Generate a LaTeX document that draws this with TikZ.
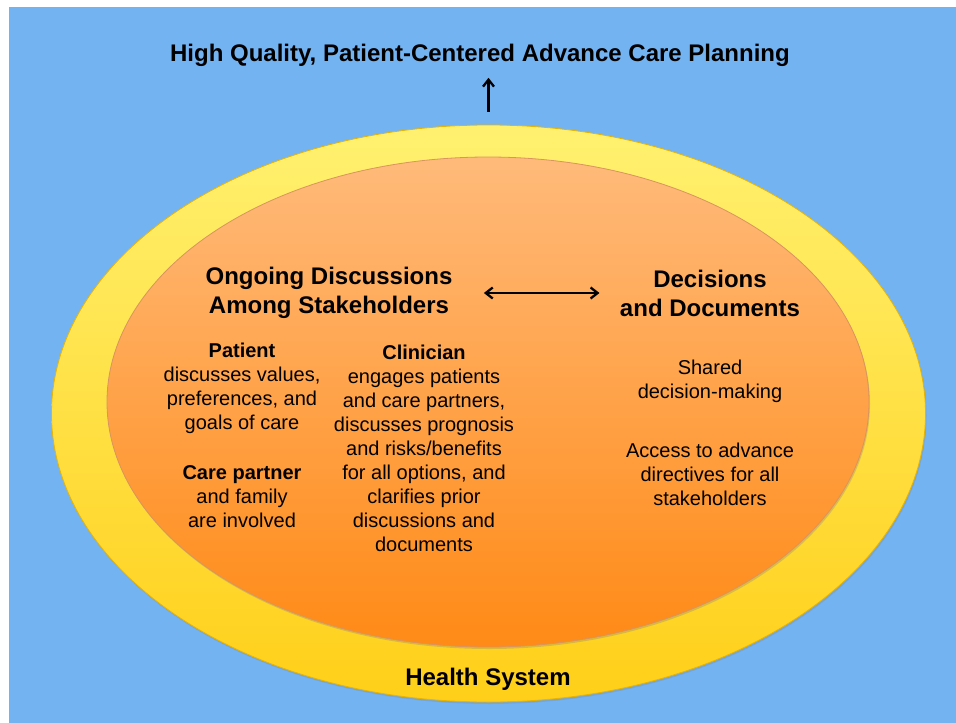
\documentclass[tikz,border=0pt]{standalone}
\usepackage{fontspec}
\setmainfont{Liberation Sans}
\usetikzlibrary{arrows.meta,shapes.geometric,shadows}

\definecolor{skyblue}{HTML}{73B3F2}
\definecolor{sunlight}{HTML}{FFF170}
\definecolor{sundeep}{HTML}{FFCF18}
\definecolor{sunedge}{HTML}{E9B400}
\definecolor{peachtop}{HTML}{FFBA7A}
\definecolor{peachbot}{HTML}{FF8A16}
\definecolor{peachedge}{HTML}{C8661A}

\tikzset{
	ring/.style={ellipse, inner sep=0pt},
	heading/.style={font=\bfseries\fontsize{24}{29}\selectfont, align=center},
	body/.style={font=\fontsize{20}{24}\selectfont, align=center},
	barb/.tip={Straight Barb[length=7pt,width=11pt]},
	link/.style={line width=2.3pt, -barb},
	duplex/.style={line width=2.3pt, barb-barb},
}

\begin{document}
\begin{tikzpicture}[x=1pt, y=-1pt]

	% 1. Fondo
	\useasboundingbox (0,0) rectangle (956,723);
	\fill[skyblue] (9,7) rectangle (956,723);

	% 2. Elipses (sistema de salud y planificación)
	\node[ring, minimum width=874, minimum height=577, top color=sunlight, bottom color=sundeep,
		draw=sunedge, line width=0.8pt, drop shadow={opacity=0.25, shadow xshift=1pt, shadow yshift=-2pt}] (system) at (488.5,413.5) {};
	\node[ring, minimum width=762, minimum height=490, top color=peachtop, bottom color=peachbot,
		draw=peachedge!70, line width=0.8pt, drop shadow={opacity=0.3, shadow xshift=1pt, shadow yshift=-2pt}] (care) at (488,402) {};

	% 3. Títulos
	\node[heading] (goal) at (480,55) {High Quality, Patient-Centered Advance Care Planning};
	\node[heading] (ongoing) at (329,293) {Ongoing Discussions\\Among Stakeholders};
	\node[heading] (decisions) at (710,293) {Decisions\\and Documents};
	\node[heading] (health) at (488,679) {Health System};

	% 4. Textos interiores
	\node[body] (patient) at (242,388) {\textbf{Patient}\\discusses values,\\preferences, and\\goals of care};
	\node[body] (partner) at (242,497) {\textbf{Care partner}\\and family\\are involved};
	\node[body] (clinician) at (424,448) {\textbf{Clinician}\\engages patients\\and care partners,\\discusses prognosis\\and risks/benefits\\for all options, and\\clarifies prior\\discussions and\\documents};
	\node[body] (shared) at (710,381) {Shared\\decision-making};
	\node[body] (access) at (710,474) {Access to advance\\directives for all\\stakeholders};

	% 5. Flechas
	\draw[link, shorten <=13pt, shorten >=8pt] (system.north) -- (goal.south -| system.north);
	\draw[duplex, shorten <=28pt, shorten >=17pt] (ongoing.east) -- (decisions.west);

\end{tikzpicture}
\end{document}
